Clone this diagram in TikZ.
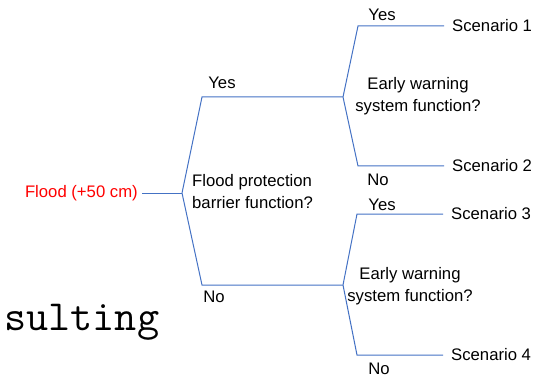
\documentclass[tikz,border=0pt]{standalone}
\usepackage{fontspec}
\setmainfont{Liberation Sans}
\usepackage{xcolor}
\usetikzlibrary{positioning,calc}
\definecolor{Branch}{HTML}{4472C4}
\definecolor{FloodRed}{HTML}{FF0000}

\begin{document}
\begin{tikzpicture}[x=1pt,y=-1pt,
  every node/.style={font=\fontsize{16.7}{22}\selectfont,inner sep=0pt},
  branch/.style={Branch,line width=1pt},
  answer/.style={anchor=center},
  outcome/.style={anchor=west,inner xsep=8pt}]
  \useasboundingbox (0,0) rectangle (549,377);
  % root event
  \node[anchor=east,inner xsep=4pt,text=FloodRed] (flood) at (142,193) {Flood (+50 cm)};
  \coordinate (fork0) at (182,193);
  \coordinate (barrierYes) at (202,97);
  \coordinate (barrierNo) at (202,285);
  \coordinate (fork1) at (343,97);
  \coordinate (fork2) at (343,285);
  \node[anchor=west,align=left] (barrier) at (192,191.5) {Flood protection\\barrier function?};
  \node[answer] (yes0) at (222,83) {Yes};
  \node[answer] (no0) at (214,297) {No};
  % warning system, upper branch
  \coordinate (warnYes1) at (358,26);
  \coordinate (warnNo1) at (358,166);
  \node[align=center] (warn1) at (418,96) {Early warning\\system function?};
  \node[answer] (yes1) at (382,15) {Yes};
  \node[answer] (no1) at (378,180) {No};
  \node[outcome] (scen1) at (444,26) {Scenario 1};
  \node[outcome] (scen2) at (444,166) {Scenario 2};
  % warning system, lower branch
  \coordinate (warnYes2) at (357,214);
  \coordinate (warnNo2) at (357,355);
  \node[align=center] (warn2) at (410,286) {Early warning\\system function?};
  \node[answer] (yes2) at (382,205) {Yes};
  \node[answer] (no2) at (379,369) {No};
  \node[outcome] (scen3) at (443,214) {Scenario 3};
  \node[outcome] (scen4) at (443,355) {Scenario 4};
  % connectors
  \draw[branch] (flood.east) -- (fork0);
  \draw[branch] (fork0) -- (barrierYes) -- (fork1);
  \draw[branch] (fork0) -- (barrierNo) -- (fork2);
  \draw[branch] (fork1) -- (warnYes1) -- (scen1.west);
  \draw[branch] (fork1) -- (warnNo1) -- (scen2.west);
  \draw[branch] (fork2) -- (warnYes2) -- (scen3.west);
  \draw[branch] (fork2) -- (warnNo2) -- (scen4.west);
  % stray caption fragment
  \node[anchor=base west,font=\fontsize{43}{43}\selectfont\ttfamily] (caption) at (4,330) {sulting};
\end{tikzpicture}
\end{document}
